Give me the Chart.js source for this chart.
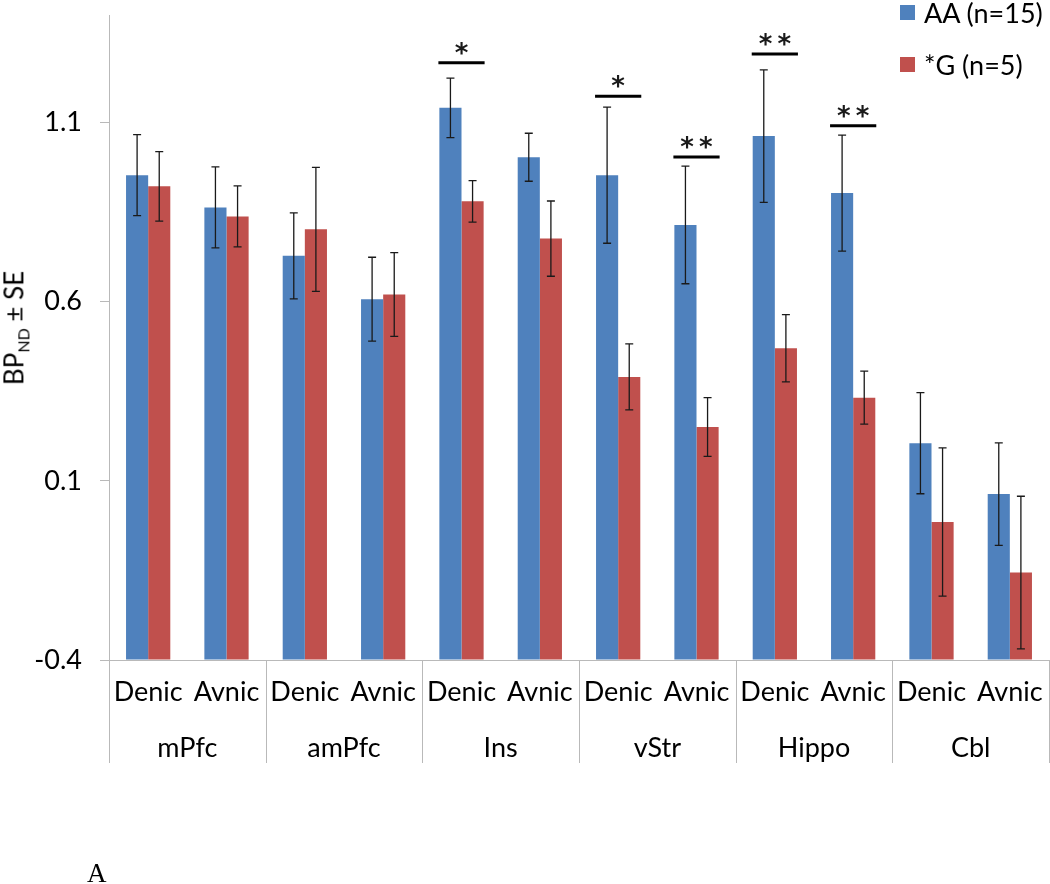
<!DOCTYPE html>
<html>
<head>
<meta charset="utf-8">
<script src="https://cdn.jsdelivr.net/npm/chart.js@4/dist/chart.umd.min.js"></script>
<style>
    body { margin: 0; background: #fff; }
    #wrap { position: relative; width: 1050px; height: 884px; font-family: Lato, "Open Sans", sans-serif; color: #000; }
    #ytitle { position: absolute; left: 15px; top: 328px; transform: translate(-50%, -50%) rotate(-90deg); white-space: nowrap; font-size: 26px; }
    #ytitle sub { font-size: 16px; }
    #legend { position: absolute; left: 900px; top: -2px; font-size: 27px; }
    .legend-item { display: flex; align-items: center; height: 28px; margin-bottom: 24px; }
    .legend-swatch { width: 15px; height: 15px; margin-right: 9px; }
    #panel { position: absolute; left: 87px; top: 858px; font-family: "Liberation Serif", serif; font-size: 27px; }
</style>
</head>
<body>
<div id="wrap">
    <canvas id="chart" width="1050" height="884"></canvas>
    <div id="ytitle">BP<sub>ND</sub> ± SE</div>
    <div id="legend"></div>
    <div id="panel">A</div>
</div>
<script>
const regions = ["mPfc", "amPfc", "Ins", "vStr", "Hippo", "Cbl"];
const conditions = ["Denic", "Avnic"];

const aaLabel = "AA (n=15)";
const aaValues = [0.953, 0.863, 0.728, 0.607, 1.141, 1.003, 0.953, 0.814, 1.062, 0.903, 0.205, 0.063];
const aaErrors = [0.113, 0.113, 0.120, 0.117, 0.083, 0.067, 0.190, 0.164, 0.185, 0.162, 0.141, 0.143];

const gLabel = "*G (n=5)";
const gValues = [0.922, 0.838, 0.802, 0.620, 0.880, 0.776, 0.390, 0.250, 0.470, 0.332, -0.015, -0.156];
const gErrors = [0.097, 0.085, 0.173, 0.117, 0.058, 0.105, 0.092, 0.082, 0.094, 0.074, 0.207, 0.213];

const yTicks = [-0.4, 0.1, 0.6, 1.1];
const yMin = -0.4;
const yMax = 1.4;

// significance marks: sub-category index, height of bar line, stars
const sigIndex = [4, 6, 7, 8, 9];
const sigLevel = [1.267, 1.173, 1.004, 1.291, 1.091];
const sigStars = ["*", "*", "**", "**", "**"];

const colors = { aa: "#4f81bd", g: "#c0504d" };
const axisGray = "#b9b9b9";
const labelFont = { family: "Lato, 'Open Sans', sans-serif", size: 27 };

const labels = [];
regions.forEach(() => conditions.forEach((c) => labels.push(c)));

const errorBars = {
    id: "errorBars",
    afterDatasetsDraw(chart) {
        const ctx = chart.ctx;
        const y = chart.scales.y;
        ctx.save();
        ctx.strokeStyle = "#1a1a1a";
        ctx.lineWidth = 1.3;
        chart.data.datasets.forEach((ds, di) => {
            chart.getDatasetMeta(di).data.forEach((bar, i) => {
                const top = y.getPixelForValue(ds.data[i] + ds.errors[i]);
                const bottom = y.getPixelForValue(ds.data[i] - ds.errors[i]);
                ctx.beginPath();
                ctx.moveTo(bar.x, top);
                ctx.lineTo(bar.x, bottom);
                ctx.moveTo(bar.x - 4, top);
                ctx.lineTo(bar.x + 4, top);
                ctx.moveTo(bar.x - 4, bottom);
                ctx.lineTo(bar.x + 4, bottom);
                ctx.stroke();
            });
        });
        ctx.restore();
    },
};

const significance = {
    id: "significance",
    afterDatasetsDraw(chart) {
        const ctx = chart.ctx;
        const x = chart.scales.x;
        const y = chart.scales.y;
        const half = (x.width / labels.length) * 0.295;
        ctx.save();
        ctx.strokeStyle = "#000";
        ctx.fillStyle = "#1a1a1a";
        ctx.lineWidth = 3;
        ctx.font = "bold 26px 'DejaVu Sans', sans-serif";
        ctx.textAlign = "center";
        ctx.textBaseline = "alphabetic";
        sigIndex.forEach((idx, k) => {
            const cx = x.getPixelForValue(idx);
            const ly = y.getPixelForValue(sigLevel[k]);
            ctx.beginPath();
            ctx.moveTo(cx - half, ly);
            ctx.lineTo(cx + half, ly);
            ctx.stroke();
            ctx.fillText(sigStars[k].split("").join("\u2009"), cx, ly - 1);
        });
        ctx.restore();
    },
};

const groupDividers = {
    id: "groupDividers",
    afterDraw(chart) {
        const ctx = chart.ctx;
        const x = chart.scales.x;
        const x2 = chart.scales.x2;
        const step = x.width / labels.length;
        ctx.save();
        ctx.strokeStyle = axisGray;
        ctx.lineWidth = 1;
        for (let g = 0; g <= regions.length; g++) {
            const px = Math.round(x.getPixelForValue(g * conditions.length) - step / 2) + 0.5;
            ctx.beginPath();
            ctx.moveTo(px, x.top);
            ctx.lineTo(px, x2.bottom);
            ctx.stroke();
        }
        ctx.restore();
    },
};

const chartData = {
    labels: labels,
    datasets: [
        {
            label: aaLabel,
            data: aaValues,
            errors: aaErrors,
            backgroundColor: colors.aa,
            base: yMin,
            categoryPercentage: 0.565,
            barPercentage: 1,
            xAxisID: "x",
        },
        {
            label: gLabel,
            data: gValues,
            errors: gErrors,
            backgroundColor: colors.g,
            base: yMin,
            categoryPercentage: 0.565,
            barPercentage: 1,
            xAxisID: "x",
        },
    ],
};

const chartConfig = {
    type: "bar",
    data: chartData,
    options: {
        responsive: false,
        animation: false,
        layout: { padding: { top: 15, right: 1, left: 0, bottom: 121 } },
        plugins: {
            legend: { display: false },
            tooltip: { enabled: false },
        },
        scales: {
            y: {
                min: yMin,
                max: yMax,
                afterBuildTicks: (scale) => {
                    scale.ticks = yTicks.map((v) => ({ value: v }));
                },
                afterFit: (scale) => {
                    scale.width = 109;
                    scale.paddingTop = 0;
                    scale.paddingBottom = 0;
                },
                ticks: {
                    font: labelFont,
                    color: "#000",
                    padding: 18,
                    callback: (v) => Number(v).toFixed(1),
                },
                grid: { drawOnChartArea: false, drawTicks: true, tickLength: 9, color: axisGray },
                border: { display: true, color: axisGray },
            },
            x: {
                position: "bottom",
                afterFit: (scale) => {
                    scale.height = 50;
                    scale.paddingLeft = 0;
                    scale.paddingRight = 0;
                },
                ticks: { font: labelFont, color: "#000", padding: 8, maxRotation: 0, autoSkip: false },
                grid: { display: false },
                border: { display: true, color: axisGray },
            },
            x2: {
                type: "category",
                position: "bottom",
                labels: regions,
                afterFit: (scale) => {
                    scale.height = 53;
                    scale.paddingLeft = 0;
                    scale.paddingRight = 0;
                },
                ticks: { font: labelFont, color: "#000", padding: 14, maxRotation: 0, autoSkip: false },
                grid: { display: false },
                border: { display: false },
            },
        },
    },
    plugins: [errorBars, significance, groupDividers],
};

new Chart(document.getElementById("chart"), chartConfig);

const legend = document.getElementById("legend");
chartData.datasets.forEach((ds) => {
    const item = document.createElement("div");
    item.className = "legend-item";
    item.innerHTML = `<span class="legend-swatch" style="background:${ds.backgroundColor}"></span><span>${ds.label}</span>`;
    legend.appendChild(item);
});
</script>
</body>
</html>
